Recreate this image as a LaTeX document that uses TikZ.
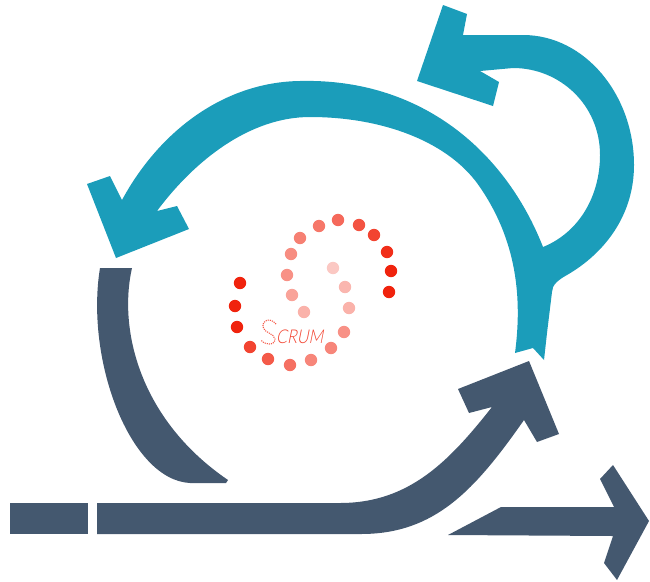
\documentclass[tikz,border=0pt]{standalone}
\usepackage{fontspec}
\usepackage{xcolor}
\usepackage{tikz}
\newfontfamily\scrumfont[FakeSlant=0.2,FakeStretch=0.85]{Lato Light}
\definecolor{loopteal}{HTML}{1B9DBA}
\definecolor{pathslate}{HTML}{44586F}
\definecolor{dotred}{HTML}{F0230D}

\begin{document}
\begin{tikzpicture}[x=1pt,y=-1pt]
  \useasboundingbox (0,0) rectangle (650,581);
  % Small loop and big loop (one teal outline)
  \fill[loopteal] (87,184) -- (110,176) -- (122,200)
    .. controls (160,130) and (225,82) .. (300,81)
    .. controls (420,78) and (505,150) .. (543,247)
    .. controls (580,232) and (600,195) .. (600,155)
    .. controls (600,105) and (560,68) .. (513,68) -- (480,71)
    -- (499,82) -- (493,106) -- (417,81) -- (443,5) -- (467,14) -- (463,35) -- (523,35)
    .. controls (585,35) and (634,95) .. (634,165)
    .. controls (634,215) and (605,253) .. (567,275)
    .. controls (558,280) and (552,285) .. (552,292)
    -- (547,333) -- (544,360) -- (533,348) -- (515,353)
    .. controls (522,300) and (518,240) .. (477,183)
    .. controls (445,140) and (380,117) .. (310,117)
    .. controls (250,117) and (195,160) .. (157,211)
    -- (177,206) -- (189,229) -- (116,258) -- cycle;
  % Left return arc
  \fill[pathslate] (100,268) -- (132,268)
    .. controls (118,330) and (140,420) .. (228,480)
    -- (226,483) -- (190,483)
    .. controls (130,480) and (85,360) .. (100,268) -- cycle;
  % Start bar and rising arrow
  \fill[pathslate] (10,503) rectangle (88,534);
  \fill[pathslate] (97,503) -- (340,503)
    .. controls (410,503) and (450,460) .. (492,407)
    -- (469,413) -- (458,389) -- (529,361) -- (559,434) -- (537,442) -- (524,420)
    .. controls (475,490) and (435,534) .. (361,534)
    -- (97,534) -- cycle;
  % Right arrow
  \fill[pathslate] (448,535) -- (501,507) -- (614,507) -- (600,479) -- (613,465) -- (649,521)
    -- (617,580) -- (604,563) -- (613,536) -- cycle;
  % Dotted spiral
  \foreach \px/\py/\shade in {333/268/25,345/287/33,349/308/35,344/332/50,331/348/55,311/360/55,
      290/365/65,268/359/75,250/347/85,237/327/100,235/306/100,240/283/100,
      304/312/35,292/295/42,287/275/50,291/254/52,300/238/58,319/226/62,
      338/220/68,359/225/78,374/235/85,387/252/95,391/271/100,389/292/100}
    \fill[dotred!\shade!white] (\px,\py) circle (6.2);
  % Label
  \draw[dotred!75!white,densely dotted,line width=1.1pt] (276,324) .. controls (270,317) and (262,320) .. (263,327)
    .. controls (264,333) and (274,333) .. (275,339) .. controls (275,346) and (264,345) .. (261,340);
  \node[font=\scrumfont\fontsize{19}{22}\selectfont,text=dotred!85!white,anchor=base west,inner sep=0pt] (scrumlabel) at (276,343) {CRUM};
\end{tikzpicture}
\end{document}
